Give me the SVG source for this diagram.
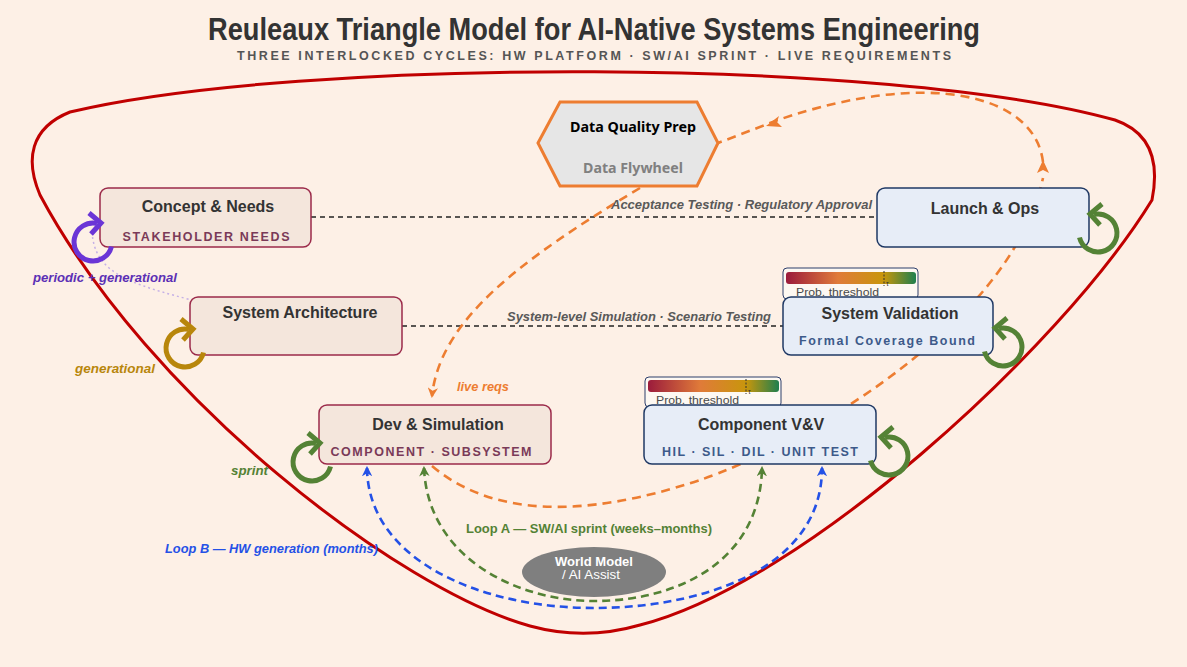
<svg xmlns="http://www.w3.org/2000/svg" xmlns:xlink="http://www.w3.org/1999/xlink" width="1187" height="667" viewBox="0 0 1187 667">
<style>
  .ttl{font-family:"Liberation Sans Narrow","Liberation Sans",Arial,sans-serif;font-weight:bold;fill:#333}
  .sub{font-family:"Liberation Sans Narrow","Liberation Sans",Arial,sans-serif;font-weight:bold;fill:#555}
  .nt{font-family:"Liberation Sans",Arial,sans-serif;font-weight:bold;font-size:16px;fill:#333;text-anchor:middle}
  .ns{font-family:"Liberation Sans",Arial,sans-serif;font-weight:bold;font-size:12.5px;text-anchor:middle}
  .pk{fill:#f4e6dc;stroke:#9b2a4a;stroke-width:1.5}
  .bl{fill:#e7edf7;stroke:#1f3864;stroke-width:1.5}
  .pks{fill:#7a3a58}
  .bls{fill:#3d5a8a}
  .lbl{font-family:"Liberation Sans",Arial,sans-serif;font-style:italic;font-weight:bold;font-size:13px}
  .nar{font-family:"Liberation Sans Narrow","Liberation Sans",Arial,sans-serif;font-weight:bold;font-size:13px}
  .blk{fill:none;stroke:#222;stroke-width:1.3;stroke-dasharray:5 4}
  .or{fill:none;stroke:#ed7d31;stroke-width:2.6;stroke-dasharray:9 6}
  .gr{fill:none;stroke:#548235;stroke-width:2.6;stroke-dasharray:8 5}
  .bu{fill:none;stroke:#2451e6;stroke-width:2.6;stroke-dasharray:8 5}
  .loop{fill:none;stroke-width:5}
  .pbox{fill:#fdf8f2;stroke:#2d3e6b;stroke-width:1}
  .pt{font-family:"Liberation Sans",Arial,sans-serif;font-size:11.5px;fill:#4a4a4a}
</style>
<defs>
  <linearGradient id="grad" x1="0" y1="0" x2="1" y2="0">
    <stop offset="0" stop-color="#9b1b3c"/>
    <stop offset="0.4" stop-color="#e07b39"/>
    <stop offset="0.75" stop-color="#c8960c"/>
    <stop offset="1" stop-color="#1e7f4e"/>
  </linearGradient>
  <marker id="aO" viewBox="0 0 10 10" refX="8" refY="5" markerWidth="4" markerHeight="4" orient="auto" markerUnits="strokeWidth">
    <path d="M0,0 L10,5 L0,10 L3,5 z" fill="#ed7d31"/>
  </marker>
  <marker id="aG" viewBox="0 0 10 10" refX="8" refY="5" markerWidth="4" markerHeight="4" orient="auto-start-reverse" markerUnits="strokeWidth">
    <path d="M0,0 L10,5 L0,10 L3,5 z" fill="#548235"/>
  </marker>
  <marker id="aB" viewBox="0 0 10 10" refX="8" refY="5" markerWidth="4" markerHeight="4" orient="auto-start-reverse" markerUnits="strokeWidth">
    <path d="M0,0 L10,5 L0,10 L3,5 z" fill="#2451e6"/>
  </marker>
  <g id="loopL">
    <path d="M 18.5 4.5 A 19 19 0 1 1 4 -18.6"/>
    <path d="M -4 -29 L 8 -19 L -2 -8"/>
  </g>
</defs>
<rect x="0" y="0" width="1187" height="667" fill="#fdf0e6"/>

<g id="title">
  <text class="ttl" x="594" y="40" font-size="31" text-anchor="middle" textLength="772" lengthAdjust="spacingAndGlyphs">Reuleaux Triangle Model for AI-Native Systems Engineering</text>
  <text class="sub" x="594" y="60" font-size="12.5" text-anchor="middle" textLength="714" lengthAdjust="spacing">THREE INTERLOCKED CYCLES: HW PLATFORM · SW/AI SPRINT · LIVE REQUIREMENTS</text>
</g>

<g id="outline">
  <path d="M 640 625 Q 585 641 530 626 C 400 590 150 400 40 195 C 25 160 30 128 70 112 C 300 57 890 57 1115 120 C 1150 132 1160 160 1152 200 C 1060 350 800 585 640 625 Z" fill="none" stroke="#c00000" stroke-width="3"/>
</g>

<g id="connectors">
  <path class="blk" d="M 311 217 L 877 217"/>
  <path class="blk" d="M 402 326 L 783 326"/>
  <path d="M 92 232 C 95 275 130 285 220 307" fill="none" stroke="#c5b0e6" stroke-width="1.5" stroke-dasharray="2 3"/>
  <!-- live reqs -->
  <path class="or" d="M 640 188 C 520 260 440 320 432 396" marker-end="url(#aO)"/>
  <!-- data flywheel loop -->
  <path class="or" d="M 432 466 Q 520 540 700 480 C 790 450 1010 330 1043 178"/>
  <path class="or" d="M 1043 162 C 1035 95 930 68 778 120 L 718 143"/>
  <path d="M 1043 160 L 1049 173 L 1043 170 L 1037 173 Z" fill="#ed7d31"/>
  <path d="M 766 126 L 779 116 L 777 122 L 782 127 Z" fill="#ed7d31"/>
  <!-- Loop A -->
  <path class="gr" d="M 424 468 C 428 560 520 601 594 601 C 680 601 760 560 762 468" marker-start="url(#aG)" marker-end="url(#aG)"/>
  <!-- Loop B -->
  <path class="bu" d="M 367 468 C 368 560 480 608 594 608 C 700 608 822 570 822 468" marker-start="url(#aB)" marker-end="url(#aB)"/>
  <text class="lbl" x="872" y="209" fill="#595959" text-anchor="end" textLength="261" lengthAdjust="spacingAndGlyphs">Acceptance Testing · Regulatory Approval</text>
  <text class="lbl" x="771" y="321" fill="#595959" text-anchor="end" textLength="264" lengthAdjust="spacingAndGlyphs">System-level Simulation · Scenario Testing</text>
  <text class="lbl" x="457" y="391" fill="#ed7d31" font-weight="normal" textLength="52" lengthAdjust="spacingAndGlyphs">live reqs</text>
  <text class="nar" x="466" y="533" fill="#548235" textLength="246" lengthAdjust="spacingAndGlyphs">Loop A — SW/AI sprint (weeks–months)</text>
  <text class="lbl" x="165" y="553" fill="#2451e6" textLength="213" lengthAdjust="spacingAndGlyphs">Loop B — HW generation (months)</text>
</g>

<g id="cycle-labels">
  <text class="lbl" x="33" y="282" fill="#5b2fb5" textLength="144" lengthAdjust="spacingAndGlyphs">periodic + generational</text>
  <text class="lbl" x="75" y="373" fill="#b8860b" textLength="80" lengthAdjust="spacingAndGlyphs">generational</text>
  <text class="lbl" x="231" y="475" fill="#548235" textLength="37" lengthAdjust="spacingAndGlyphs">sprint</text>
</g>

<g id="data-quality-prep">
  <polygon points="538,143 560,102 697,102 718,143 697,186 560,186" fill="#e6e6e6" stroke="#ed7d31" stroke-width="3"/>
  <text x="633" y="132" font-family="'Noto Sans','Open Sans',sans-serif" font-weight="bold" font-size="14" fill="#000" text-anchor="middle" textLength="126" lengthAdjust="spacingAndGlyphs">Data Quality Prep</text>
  <text x="633" y="173" font-family="'Noto Sans','Open Sans',sans-serif" font-weight="bold" font-size="14" fill="#808080" text-anchor="middle" textLength="100" lengthAdjust="spacingAndGlyphs">Data Flywheel</text>
</g>

<g id="concept-needs">
  <rect class="pk" x="100" y="188" width="211" height="59" rx="8"/>
  <text class="nt" x="208" y="212">Concept &amp; Needs</text>
  <text class="ns pks" x="206" y="241" textLength="167" lengthAdjust="spacing">STAKEHOLDER NEEDS</text>
  <use xlink:href="#loopL" class="loop" stroke="#6a35d6" transform="translate(93,242)"/>
</g>

<g id="system-architecture">
  <rect class="pk" x="190" y="297" width="212" height="58" rx="8"/>
  <text class="nt" x="300" y="318">System Architecture</text>
  <use xlink:href="#loopL" class="loop" stroke="#b8860b" transform="translate(185,348)"/>
</g>

<g id="dev-simulation">
  <rect class="pk" x="319" y="405" width="232" height="59" rx="8"/>
  <text class="nt" x="438" y="430">Dev &amp; Simulation</text>
  <text class="ns pks" x="431" y="456" textLength="201" lengthAdjust="spacing">COMPONENT · SUBSYSTEM</text>
  <use xlink:href="#loopL" class="loop" stroke="#548235" transform="translate(312,462)"/>
</g>

<g id="component-vv">
  <rect class="pbox" x="645" y="377" width="136" height="30" rx="4"/>
  <rect x="648" y="380" width="131" height="12" rx="3" fill="url(#grad)"/>
  <line x1="746" y1="379" x2="746" y2="394" stroke="#333" stroke-width="1" stroke-dasharray="2 1.5"/>
  <text x="748" y="394" font-family="'Liberation Sans',sans-serif" font-size="7" fill="#333">τ</text>
  <text class="pt" x="656" y="404" textLength="83" lengthAdjust="spacingAndGlyphs">Prob. threshold</text>
  <rect class="bl" x="644" y="405" width="232" height="59" rx="8"/>
  <text class="nt" x="761" y="430">Component V&amp;V</text>
  <text class="ns bls" x="760" y="456" textLength="196" lengthAdjust="spacing">HIL · SIL · DIL · UNIT TEST</text>
  <use xlink:href="#loopL" class="loop" stroke="#548235" transform="translate(889,456) scale(-1,1)"/>
</g>

<g id="system-validation">
  <rect class="pbox" x="783" y="268" width="135" height="31" rx="4"/>
  <rect x="786" y="272" width="130" height="12" rx="3" fill="url(#grad)"/>
  <line x1="884" y1="271" x2="884" y2="286" stroke="#333" stroke-width="1" stroke-dasharray="2 1.5"/>
  <text x="886" y="286" font-family="'Liberation Sans',sans-serif" font-size="7" fill="#333">τ</text>
  <text class="pt" x="796" y="296" textLength="83" lengthAdjust="spacingAndGlyphs">Prob. threshold</text>
  <rect class="bl" x="783" y="297" width="210" height="58" rx="8"/>
  <text class="nt" x="890" y="319">System Validation</text>
  <text class="ns bls" x="887" y="345" textLength="176" lengthAdjust="spacing">Formal Coverage Bound</text>
  <use xlink:href="#loopL" class="loop" stroke="#548235" transform="translate(1003,347) scale(-1,1)"/>
</g>

<g id="launch-ops">
  <rect class="bl" x="877" y="188" width="212" height="59" rx="8"/>
  <text class="nt" x="985" y="214">Launch &amp; Ops</text>
  <use xlink:href="#loopL" class="loop" stroke="#548235" transform="translate(1098,233) scale(-1,1)"/>
</g>

<g id="world-model">
  <ellipse cx="594" cy="572" rx="72" ry="25" fill="#7f7f7f"/>
  <text class="nar" x="594" y="566" fill="#fff" text-anchor="middle" textLength="78" lengthAdjust="spacingAndGlyphs">World Model</text>
  <text x="591" y="579" font-family="'Liberation Sans Narrow','Liberation Sans',sans-serif" font-size="12" fill="#fff" text-anchor="middle" textLength="58" lengthAdjust="spacingAndGlyphs">/ AI Assist</text>
</g>
</svg>
